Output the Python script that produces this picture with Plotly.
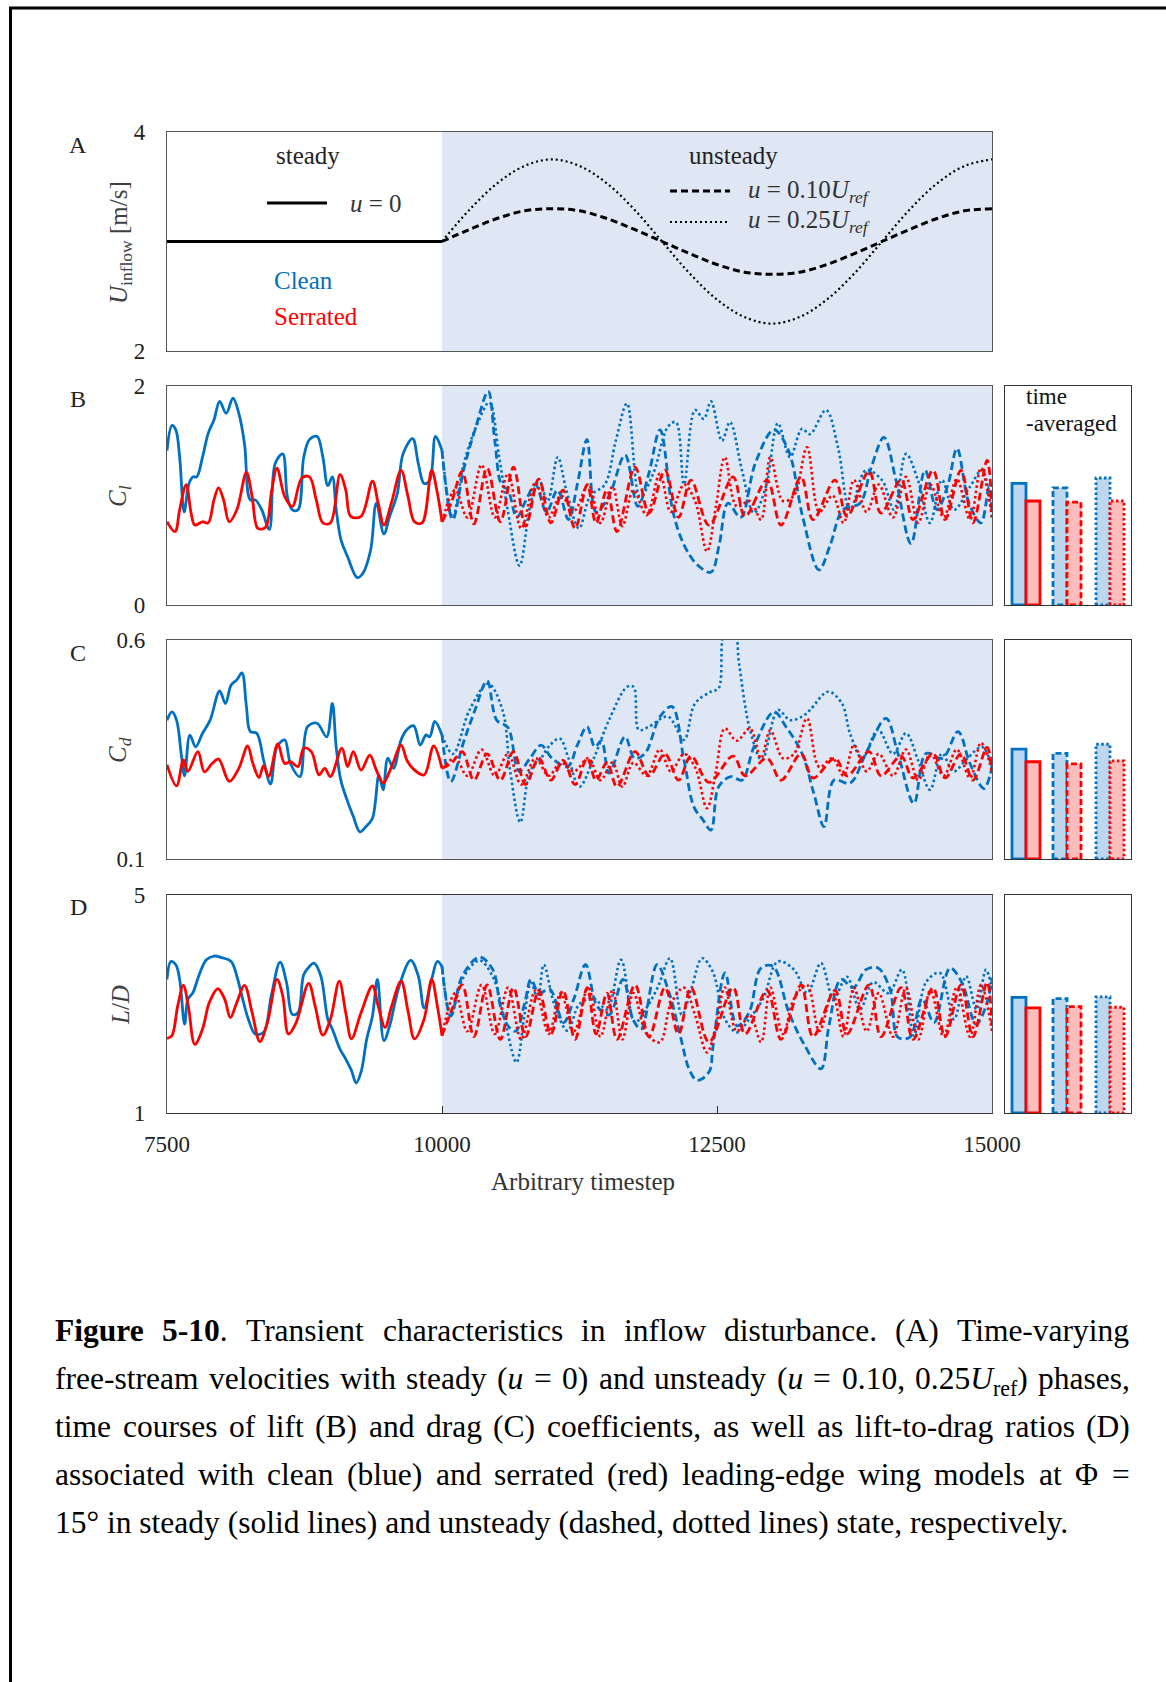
import re
import plotly.graph_objects as go

# ======================= DATA =======================
X_TICKS = [7500, 10000, 12500, 15000]

# Panel A: inflow velocity
A_steady_t = [7500, 10000]
A_steady_v = [3.0, 3.0]
A_t = [10000, 10250, 10500, 10750, 11000, 11250, 11500, 11750, 12000, 12250, 12500,
       12750, 13000, 13250, 13500, 13750, 14000, 14250, 14500, 14750, 15000]
A_u10_v = [3.0, 3.11, 3.21, 3.28, 3.30, 3.28, 3.21, 3.11, 3.0, 2.89, 2.79,
           2.72, 2.70, 2.72, 2.79, 2.89, 3.0, 3.11, 3.21, 3.28, 3.30]
A_u25_v = [3.0, 3.29, 3.53, 3.69, 3.75, 3.69, 3.53, 3.29, 3.0, 2.71, 2.47,
           2.31, 2.25, 2.31, 2.47, 2.71, 3.0, 3.29, 3.53, 3.69, 3.75]

# Panel B: lift coefficient
B_clean_steady_t = [7500, 7545, 7580, 7615, 7656, 7700, 7736, 7770, 7823, 7875,
                    7927, 7979, 8038, 8100, 8153, 8205, 8257, 8302, 8361, 8430,
                    8483, 8552, 8594, 8639, 8691, 8743, 8795, 8864, 8917, 8962,
                    9003, 9038, 9083, 9142, 9229, 9281, 9351, 9403, 9472, 9524,
                    9594, 9646, 9733, 9785, 9837, 9889, 9941, 10000]
B_clean_steady_v = [1.41, 1.64, 1.60, 1.35, 0.85, 1.11, 1.17, 1.17, 1.35, 1.57,
                    1.69, 1.86, 1.75, 1.89, 1.75, 1.47, 0.96, 0.96, 0.87, 0.69,
                    1.29, 1.38, 0.99, 0.87, 0.87, 1.35, 1.51, 1.54, 1.35, 1.09,
                    1.17, 0.87, 0.59, 0.44, 0.25, 0.29, 0.50, 0.93, 0.65, 0.81,
                    1.02, 1.38, 1.52, 1.29, 1.11, 1.14, 1.54, 1.41]
B_serr_steady_t = [7500, 7573, 7615, 7674, 7719, 7753, 7823, 7875, 7927, 7969,
                   8014, 8066, 8135, 8222, 8274, 8326, 8396, 8448, 8500, 8570,
                   8639, 8726, 8795, 8857, 8917, 8986, 9073, 9125, 9170, 9264,
                   9368, 9420, 9472, 9542, 9628, 9691, 9750, 9819, 9906, 9958, 10000]
B_serr_steady_v = [0.76, 0.67, 0.87, 1.10, 0.84, 0.73, 0.76, 0.75, 0.96, 1.07,
                   0.96, 0.76, 0.87, 1.21, 0.99, 0.70, 0.71, 1.02, 1.25, 0.99,
                   0.90, 1.16, 1.17, 0.96, 0.75, 0.75, 1.19, 1.05, 0.81, 0.81,
                   1.13, 0.93, 0.73, 0.94, 1.23, 0.99, 0.76, 0.75, 1.23, 1.02, 0.76]
B_clean_u10_t = [10000, 10097, 10200, 10300, 10420, 10480, 10540, 10600, 10680, 10760,
                 10850, 10950, 11050, 11150, 11230, 11318, 11400, 11520, 11664, 11780,
                 11880, 11982, 12100, 12200, 12318, 12445, 12520, 12600, 12715, 12850,
                 13018, 13150, 13280, 13427, 13530, 13645, 13800, 13900, 14018, 14127,
                 14264, 14391, 14500, 14600, 14682, 14791, 14900, 14973, 15000]
B_clean_u10_v = [1.41, 0.78, 1.25, 1.60, 1.95, 1.50, 1.10, 1.05, 0.80, 0.95,
                 1.10, 0.85, 1.05, 0.78, 1.10, 1.51, 0.85, 1.00, 1.37, 0.90,
                 1.20, 1.60, 0.85, 0.55, 0.37, 0.30, 0.55, 0.93, 0.80, 1.30,
                 1.60, 1.41, 0.80, 0.32, 0.55, 0.87, 0.93, 1.25, 1.53, 1.14,
                 0.56, 1.23, 0.87, 1.10, 1.43, 0.93, 0.75, 1.08, 0.87]
B_clean_u25_t = [10000, 10097, 10200, 10320, 10430, 10520, 10600, 10705, 10800, 10880,
                 10960, 11052, 11130, 11245, 11350, 11480, 11580, 11682, 11800, 11920,
                 12055, 12127, 12200, 12300, 12380, 12445, 12545, 12618, 12727, 12836,
                 12945, 13054, 13164, 13273, 13345, 13491, 13600, 13709, 13854, 14000,
                 14109, 14218, 14327, 14436, 14545, 14655, 14800, 14909, 15000]
B_clean_u25_v = [1.41, 0.80, 1.30, 1.65, 1.85, 1.35, 0.85, 0.36, 0.90, 1.15,
                 0.95, 1.35, 1.05, 0.70, 1.00, 1.10, 1.50, 1.84, 0.99, 1.20,
                 1.63, 1.67, 1.10, 1.78, 1.70, 1.86, 1.50, 1.67, 1.23, 0.84,
                 1.08, 1.66, 1.35, 1.61, 1.56, 1.78, 1.44, 0.87, 1.23, 1.14,
                 0.87, 1.38, 1.14, 0.75, 1.14, 0.87, 1.08, 1.23, 0.80]
B_serr_u10_t = [10000, 10090, 10184, 10290, 10410, 10530, 10650, 10760, 10880, 10990,
                11100, 11210, 11320, 11400, 11500, 11591, 11755, 11882, 12027, 12150,
                12264, 12427, 12646, 12755, 12955, 13082, 13264, 13373, 13573, 13682,
                13882, 13991, 14173, 14282, 14464, 14573, 14718, 14827, 14955, 15000]
B_serr_u10_v = [0.76, 0.95, 1.22, 0.74, 1.25, 0.76, 1.26, 0.72, 1.15, 0.75,
                1.05, 0.70, 1.10, 0.75, 1.05, 0.67, 1.26, 0.84, 1.23, 0.80,
                1.14, 0.73, 1.17, 0.81, 1.14, 0.73, 1.17, 0.78, 1.14, 0.81,
                1.22, 0.84, 1.14, 0.78, 1.23, 0.78, 1.23, 0.75, 1.32, 0.85]
B_serr_u25_t = [10000, 10120, 10230, 10360, 10480, 10600, 10720, 10850, 10970, 11080,
                11200, 11330, 11440, 11550, 11640, 11740, 11860, 11980, 12080, 12200,
                12300, 12409, 12490, 12571, 12680, 12800, 12900, 12985, 13100, 13200,
                13318, 13430, 13550, 13650, 13745, 13860, 13970, 14100, 14218, 14330,
                14440, 14560, 14680, 14800, 14900, 15000]
B_serr_u25_v = [0.76, 1.05, 0.80, 1.28, 0.80, 1.20, 0.70, 1.12, 0.80, 1.00,
                0.86, 1.10, 0.75, 1.08, 0.72, 1.05, 0.82, 1.20, 0.85, 1.10,
                0.95, 0.49, 0.90, 1.35, 0.90, 0.95, 0.78, 1.35, 0.95, 1.00,
                1.44, 0.85, 1.00, 0.75, 1.14, 0.85, 1.10, 0.80, 1.17, 0.75,
                1.10, 0.80, 1.15, 0.78, 1.25, 0.80]

# Panel C: drag coefficient
C_clean_steady_t = [7500, 7545, 7587, 7632, 7660, 7708, 7760, 7823, 7892, 7979,
                    8031, 8083, 8135, 8181, 8222, 8257, 8316, 8378, 8441, 8500,
                    8570, 8622, 8708, 8778, 8864, 8951, 9003, 9038, 9080, 9142,
                    9194, 9253, 9309, 9368, 9427, 9465, 9507, 9559, 9628, 9680,
                    9743, 9802, 9854, 9889, 9934, 10000]
C_clean_steady_v = [0.417, 0.436, 0.417, 0.334, 0.29, 0.383, 0.356, 0.387, 0.417, 0.484,
                    0.455, 0.497, 0.509, 0.525, 0.448, 0.391, 0.387, 0.326, 0.271, 0.356,
                    0.372, 0.318, 0.288, 0.402, 0.410, 0.379, 0.455, 0.356, 0.280, 0.231,
                    0.197, 0.162, 0.174, 0.193, 0.292, 0.258, 0.330, 0.307, 0.372, 0.395,
                    0.404, 0.360, 0.383, 0.379, 0.414, 0.383]
C_serr_steady_t = [7500, 7587, 7649, 7690, 7781, 7840, 7910, 7969, 8066, 8153,
                   8233, 8281, 8337, 8378, 8424, 8507, 8570, 8622, 8691, 8743,
                   8812, 8882, 8934, 8986, 9090, 9142, 9194, 9264, 9344, 9403,
                   9465, 9542, 9628, 9680, 9733, 9837, 9924, 10000]
C_serr_steady_v = [0.315, 0.267, 0.326, 0.30, 0.345, 0.299, 0.318, 0.328, 0.277, 0.307,
                   0.358, 0.318, 0.286, 0.313, 0.288, 0.363, 0.318, 0.322, 0.311, 0.353,
                   0.345, 0.292, 0.307, 0.288, 0.353, 0.311, 0.345, 0.303, 0.337, 0.303,
                   0.274, 0.311, 0.360, 0.326, 0.307, 0.292, 0.358, 0.307]
C_clean_u10_t = [10000, 10080, 10200, 10300, 10410, 10497, 10600, 10700, 10800, 10900,
                 11000, 11143, 11230, 11318, 11390, 11450, 11518, 11664, 11750, 11845,
                 11982, 12091, 12200, 12290, 12370, 12445, 12515, 12627, 12727, 12836,
                 13018, 13127, 13273, 13380, 13473, 13564, 13709, 13854, 14036, 14145,
                 14290, 14400, 14550, 14691, 14800, 14927, 15000]
C_clean_u10_v = [0.383, 0.277, 0.37, 0.44, 0.507, 0.417, 0.40, 0.30, 0.33, 0.36,
                 0.33, 0.311, 0.36, 0.402, 0.356, 0.37, 0.296, 0.379, 0.33, 0.341,
                 0.425, 0.448, 0.326, 0.219, 0.19, 0.166, 0.265, 0.288, 0.28, 0.356,
                 0.436, 0.402, 0.341, 0.25, 0.174, 0.28, 0.273, 0.341, 0.421, 0.341,
                 0.227, 0.341, 0.33, 0.391, 0.318, 0.261, 0.31]
C_clean_u25_t = [10000, 10100, 10250, 10420, 10550, 10620, 10712, 10800, 10900, 10982,
                 11071, 11150, 11249, 11380, 11518, 11682, 11742, 11789, 11880, 12055,
                 12200, 12300, 12445, 12515, 12571, 12658, 12700, 12800, 12909, 13054,
                 13164, 13273, 13345, 13510, 13636, 13709, 13820, 13964, 14100, 14218,
                 14327, 14436, 14545, 14650, 14764, 14909, 15000]
C_clean_u25_v = [0.383, 0.34, 0.44, 0.50, 0.44, 0.30, 0.184, 0.30, 0.33, 0.36,
                 0.375, 0.33, 0.265, 0.33, 0.417, 0.493, 0.493, 0.395, 0.402, 0.425,
                 0.372, 0.455, 0.482, 0.49, 0.62, 0.62, 0.547, 0.395, 0.326, 0.44,
                 0.417, 0.425, 0.44, 0.482, 0.455, 0.387, 0.33, 0.395, 0.34, 0.387,
                 0.326, 0.258, 0.341, 0.30, 0.326, 0.356, 0.31]
C_serr_u10_t = B_serr_u10_t
C_serr_u10_v = [0.307, 0.32, 0.345, 0.28, 0.34, 0.28, 0.345, 0.27, 0.33, 0.28,
                0.325, 0.27, 0.33, 0.28, 0.32, 0.265, 0.345, 0.29, 0.34, 0.28,
                0.335, 0.275, 0.335, 0.29, 0.33, 0.28, 0.34, 0.285, 0.33, 0.29,
                0.345, 0.29, 0.335, 0.285, 0.34, 0.285, 0.34, 0.28, 0.355, 0.30]
C_serr_u25_t = B_serr_u25_t
C_serr_u25_v = [0.307, 0.33, 0.29, 0.35, 0.29, 0.34, 0.27, 0.33, 0.29, 0.32,
                0.30, 0.33, 0.28, 0.32, 0.265, 0.32, 0.29, 0.35, 0.30, 0.34,
                0.31, 0.216, 0.30, 0.398, 0.37, 0.398, 0.33, 0.394, 0.33, 0.34,
                0.421, 0.31, 0.33, 0.29, 0.36, 0.30, 0.34, 0.29, 0.35, 0.28,
                0.34, 0.29, 0.35, 0.285, 0.365, 0.30]

# Panel D: lift-to-drag ratio
D_clean_steady_t = [7500, 7535, 7580, 7615, 7660, 7691, 7736, 7788, 7858, 7927,
                    7997, 8083, 8135, 8188, 8240, 8302, 8378, 8448, 8528, 8587,
                    8639, 8691, 8743, 8795, 8837, 8899, 8962, 9003, 9073, 9125,
                    9177, 9219, 9264, 9316, 9368, 9413, 9472, 9524, 9611, 9715,
                    9785, 9837, 9906, 9958, 10000]
D_clean_steady_v = [3.45, 3.78, 3.72, 3.45, 2.63, 3.09, 3.21, 3.51, 3.81, 3.88,
                    3.85, 3.78, 3.51, 3.09, 2.72, 2.45, 2.48, 3.15, 3.77, 3.39,
                    2.81, 2.84, 3.54, 3.69, 3.75, 3.51, 2.72, 2.54, 2.17, 1.99,
                    1.78, 1.55, 1.75, 2.36, 2.78, 3.45, 2.33, 2.60, 3.33, 3.80,
                    3.51, 2.93, 3.45, 3.78, 3.69]
D_serr_steady_t = [7500, 7545, 7597, 7649, 7694, 7753, 7823, 7885, 7962, 8024,
                   8076, 8135, 8205, 8274, 8344, 8413, 8500, 8552, 8604, 8674,
                   8788, 8847, 8917, 8986, 9066, 9125, 9177, 9264, 9368, 9420,
                   9483, 9542, 9628, 9691, 9750, 9837, 9906, 9958, 10000]
D_serr_steady_v = [2.37, 2.42, 2.96, 3.34, 2.96, 2.26, 2.54, 3.03, 3.28, 3.09,
                   2.75, 3.03, 3.34, 2.84, 2.31, 2.66, 3.45, 3.15, 2.45, 2.66,
                   3.38, 2.96, 2.43, 2.72, 3.42, 2.84, 2.36, 2.84, 3.33, 2.96,
                   2.57, 2.96, 3.42, 2.87, 2.36, 2.72, 3.45, 2.96, 2.42]
D_clean_u10_t = [10000, 10080, 10184, 10340, 10462, 10531, 10600, 10670, 10750, 10809,
                 10880, 10980, 11105, 11200, 11305, 11410, 11520, 11645, 11736, 11810,
                 11955, 12064, 12173, 12245, 12318, 12427, 12464, 12573, 12682, 12791,
                 12900, 13009, 13154, 13300, 13445, 13518, 13627, 13740, 13854, 13964,
                 14073, 14145, 14254, 14364, 14473, 14618, 14727, 14855, 14945, 15000]
D_clean_u10_v = [3.69, 2.78, 3.51, 3.86, 3.63, 2.96, 2.60, 2.50, 3.00, 3.45,
                 3.20, 3.27, 2.66, 3.10, 3.72, 2.96, 2.80, 3.45, 2.72, 2.54,
                 3.72, 3.21, 2.36, 1.81, 1.60, 1.75, 2.23, 3.57, 2.60, 2.84,
                 3.66, 3.69, 2.84, 2.23, 1.81, 2.60, 3.45, 3.30, 3.63, 3.66,
                 3.27, 2.39, 2.39, 3.09, 2.66, 3.66, 3.39, 2.63, 2.96, 3.48]
D_clean_u25_t = [10000, 10080, 10184, 10340, 10462, 10560, 10677, 10750, 10809, 10870,
                 10925, 11020, 11141, 11250, 11380, 11500, 11627, 11754, 11850, 11960,
                 12073, 12180, 12270, 12364, 12460, 12573, 12682, 12791, 12920, 13054,
                 13200, 13320, 13445, 13560, 13680, 13800, 13920, 14060, 14182, 14290,
                 14400, 14527, 14655, 14764, 14860, 14945, 15000]
D_clean_u25_v = [3.69, 2.78, 3.45, 3.80, 3.50, 2.80, 1.93, 2.80, 3.39, 3.10,
                 3.72, 3.00, 2.51, 3.00, 3.10, 2.90, 3.81, 2.66, 2.90, 3.30,
                 3.84, 2.80, 3.30, 3.84, 3.60, 2.72, 2.48, 2.72, 3.10, 3.78,
                 3.63, 3.20, 3.75, 3.10, 3.50, 2.90, 3.40, 3.20, 3.63, 2.42,
                 3.40, 3.57, 2.72, 3.51, 2.90, 3.63, 3.27]
D_serr_u10_t = B_serr_u10_t
D_serr_u10_v = [2.42, 2.90, 3.35, 2.40, 3.35, 2.35, 3.30, 2.40, 3.25, 2.45,
                3.25, 2.35, 3.30, 2.45, 3.20, 2.35, 3.35, 2.40, 3.30, 2.45,
                3.30, 2.30, 3.30, 2.45, 3.25, 2.35, 3.35, 2.40, 3.25, 2.45,
                3.35, 2.40, 3.30, 2.35, 3.30, 2.40, 3.35, 2.40, 3.40, 2.60]
D_serr_u25_t = B_serr_u25_t
D_serr_u25_v = [2.42, 3.20, 2.50, 3.35, 2.45, 3.30, 2.35, 3.25, 2.45, 3.20,
                2.50, 3.30, 2.40, 3.25, 2.35, 3.20, 2.45, 2.30, 3.00, 3.30,
                2.80, 2.11, 2.60, 3.30, 2.50, 2.80, 2.30, 3.30, 2.45, 3.10,
                3.35, 2.50, 3.20, 2.40, 3.30, 2.50, 3.20, 2.40, 3.30, 2.35,
                3.25, 2.40, 3.30, 2.40, 3.35, 2.50]

# Time-averaged bars: [steady, u=0.10Uref, u=0.25Uref]
B_avg_clean = [1.11, 1.07, 1.16]
B_avg_serr = [0.95, 0.94, 0.95]
C_avg_clean = [0.351, 0.341, 0.362]
C_avg_serr = [0.322, 0.317, 0.324]
D_avg_clean = [3.12, 3.10, 3.13]
D_avg_serr = [2.93, 2.95, 2.94]

CAPTION = [
    "<b>Figure</b> <b>5-10</b>. Transient characteristics in inflow disturbance. (A) Time-varying",
    "free-stream velocities with steady (<i>u</i> = 0) and unsteady (<i>u</i> = 0.10, 0.25<i>U</i><sub>ref</sub>) phases,",
    "time courses of lift (B) and drag (C) coefficients, as well as lift-to-drag ratios (D)",
    "associated with clean (blue) and serrated (red) leading-edge wing models at \u03a6 =",
    "15\u00b0 in steady (solid lines) and unsteady (dashed, dotted lines) state, respectively.",
]

# ======================= STYLE / LAYOUT =======================
W, H = 1166, 1682
def fx(p):
    return p / W
def fy(p):
    return 1 - p / H

SERIF = "Liberation Serif, 'Times New Roman', serif"
BLUE = "#0070C0"
RED = "#FF0000"
BLUE_FILL = "#BDD7EE"
RED_FILL = "#FFBCBC"
SHADE = "#DEE7F3"
FRAME = "#555555"
DASH = "8px,4px"
DOT = "2.5px,2.8px"
LW = 2.8

fig = go.Figure()

def line(t, v, ax, color, dash="solid", width=LW):
    fig.add_trace(go.Scatter(
        x=t, y=v, xaxis="x" + ax, yaxis="y" + ax, mode="lines",
        line=dict(color=color, width=width, dash=dash, shape="spline", smoothing=1.0),
        showlegend=False, hoverinfo="skip"))

# Panel A
line(A_steady_t, A_steady_v, "", "black", "solid", 3)
line(A_t, A_u10_v, "", "black", "7px,4px", 3)
line(A_t, A_u25_v, "", "black", "2px,3px", 2.2)

series = [
    ("2", B_clean_steady_t, B_clean_steady_v, B_serr_steady_t, B_serr_steady_v,
     B_clean_u10_t, B_clean_u10_v, B_clean_u25_t, B_clean_u25_v,
     B_serr_u10_t, B_serr_u10_v, B_serr_u25_t, B_serr_u25_v),
    ("3", C_clean_steady_t, C_clean_steady_v, C_serr_steady_t, C_serr_steady_v,
     C_clean_u10_t, C_clean_u10_v, C_clean_u25_t, C_clean_u25_v,
     C_serr_u10_t, C_serr_u10_v, C_serr_u25_t, C_serr_u25_v),
    ("4", D_clean_steady_t, D_clean_steady_v, D_serr_steady_t, D_serr_steady_v,
     D_clean_u10_t, D_clean_u10_v, D_clean_u25_t, D_clean_u25_v,
     D_serr_u10_t, D_serr_u10_v, D_serr_u25_t, D_serr_u25_v),
]
for (ax, cst, csv, sst, ssv, c10t, c10v, c25t, c25v, s10t, s10v, s25t, s25v) in series:
    line(c25t, c25v, ax, BLUE, DOT, 2.6)
    line(c10t, c10v, ax, BLUE, DASH)
    line(s25t, s25v, ax, RED, DOT, 2.6)
    line(s10t, s10v, ax, RED, DASH)
    line(cst, csv, ax, BLUE, "solid")
    line(sst, ssv, ax, RED, "solid")

# Side bar panels (x in units of side-panel pixels)
GROUP_POS = [21, 62, 105]
BAR_W = 14
BAR_DASH = ["solid", "6px,3px", "2.5px,2.5px"]
for ax, base, clean, serr in [("5", 0, B_avg_clean, B_avg_serr),
                              ("6", 0.1, C_avg_clean, C_avg_serr),
                              ("7", 1, D_avg_clean, D_avg_serr)]:
    for k in range(3):
        for val, off, lc, fc in [(clean[k], -1, BLUE, BLUE_FILL), (serr[k], 1, RED, RED_FILL)]:
            c = GROUP_POS[k] + off * BAR_W / 2
            x0, x1 = c - BAR_W / 2, c + BAR_W / 2
            fig.add_trace(go.Scatter(
                x=[x0, x0, x1, x1, x0], y=[base, val, val, base, base],
                xaxis="x" + ax, yaxis="y" + ax, mode="lines", fill="toself",
                fillcolor=fc, line=dict(color=lc, width=2.8, dash=BAR_DASH[k]),
                showlegend=False, hoverinfo="skip"))

panels = [
    ("", 132, 351, [2, 4], ["2", "4"]),
    ("2", 386, 605, [0, 2], ["0", "2"]),
    ("3", 640, 859, [0.1, 0.6], ["0.1", "0.6"]),
    ("4", 895, 1113, [1, 5], ["1", "5"]),
]
layout = {}
tickfont = dict(family=SERIF, size=23, color="#222222")
for (ax, top, bot, tv, tt) in panels:
    xa = dict(domain=[fx(167), fx(992)], range=[7500, 15000], anchor="y" + ax,
              showline=True, mirror=True, linecolor=FRAME, linewidth=1.2,
              showgrid=False, zeroline=False, ticks="", showticklabels=False)
    if ax == "4":
        xa.update(showticklabels=True, tickvals=X_TICKS, ticktext=[str(v) for v in X_TICKS],
                  ticks="inside", ticklen=7, tickcolor="#333333", tickwidth=1,
                  tickfont=tickfont, ticklabelstandoff=10, linecolor="#333333")
    ya = dict(domain=[fy(bot), fy(top)], range=tv, anchor="x" + ax,
              showline=True, mirror=True, linecolor=FRAME, linewidth=1.2,
              showgrid=False, zeroline=False, tickvals=tv, ticktext=tt, ticks="",
              tickfont=tickfont, ticklabelstandoff=16)
    layout["xaxis" + ax] = xa
    layout["yaxis" + ax] = ya
    fig.add_shape(type="rect", xref="x" + ax, yref="y" + ax + " domain",
                  x0=10000, x1=15000, y0=0, y1=1, fillcolor=SHADE, line_width=0, layer="below")

for ax, top, bot, rng in [("5", 386, 605, [0, 2]), ("6", 640, 859, [0.1, 0.6]),
                          ("7", 895, 1113, [1, 5])]:
    layout["xaxis" + ax] = dict(domain=[fx(1005), fx(1131)], range=[0, 126], anchor="y" + ax,
                                showline=True, mirror=True, linecolor="#333333", linewidth=1.2,
                                showgrid=False, zeroline=False, ticks="", showticklabels=False)
    layout["yaxis" + ax] = dict(domain=[fy(bot), fy(top)], range=rng, anchor="x" + ax,
                                showline=True, mirror=True, linecolor="#333333", linewidth=1.2,
                                showgrid=False, zeroline=False, ticks="", showticklabels=False)

fig.update_layout(**layout)

ann = []
def text(x, y, s, size=25, color="#222222", xanchor="center", angle=0, yanchor="middle"):
    ann.append(dict(x=fx(x), y=fy(y), xref="paper", yref="paper", text=s, showarrow=False,
                    xanchor=xanchor, yanchor=yanchor, textangle=angle,
                    font=dict(family=SERIF, size=size, color=color)))

# Panel letters
for lab, yy in [("A", 145), ("B", 399), ("C", 653), ("D", 907)]:
    text(78, yy, lab, 24)
# Y titles
text(120, 243, "<i>U</i><sub>inflow</sub> [m/s]", 25, "#404040", angle=-90)
text(120, 496, "<i>C<sub>l</sub></i>", 25, "#404040", angle=-90)
text(120, 750, "<i>C<sub>d</sub></i>", 25, "#404040", angle=-90)
text(120, 1005, "<i>L</i>/<i>D</i>", 25, "#404040", angle=-90)
# X title
text(583, 1181, "Arbitrary timestep", 25, "#333333")
# Panel A legend texts
text(308, 155, "steady", 25)
text(348, 203, "<i>u</i> = 0", 25, "#333333", xanchor="left")
text(272, 280, "Clean", 25, BLUE, xanchor="left")
text(272, 316, "Serrated", 25, RED, xanchor="left")
text(733, 155, "unsteady", 25)
text(746, 191, "<i>u</i> = 0.10<i>U<sub>ref</sub></i>", 25, "#333333", xanchor="left")
text(746, 222, "<i>u</i> = 0.25<i>U<sub>ref</sub></i>", 25, "#333333", xanchor="left")
# time-averaged
text(1024, 396, "time", 23, "#111111", xanchor="left")
text(1024, 424, "-averaged", 23, "#111111", xanchor="left")

# ---- Justified caption (word positions from Times metrics) ----
TIMES = {' ': 250, '!': 333, '(': 333, ')': 333, ',': 250, '-': 333, '.': 250, '/': 278,
         ':': 278, '=': 564, '\u00b0': 400, '\u03a6': 760,
         'A': 722, 'B': 667, 'C': 667, 'D': 722, 'E': 611, 'F': 556, 'G': 722, 'H': 722,
         'I': 333, 'J': 389, 'K': 722, 'L': 611, 'M': 889, 'N': 722, 'O': 722, 'P': 556,
         'Q': 722, 'R': 667, 'S': 556, 'T': 611, 'U': 722, 'V': 722, 'W': 944, 'X': 722,
         'Y': 722, 'Z': 611,
         'a': 444, 'b': 500, 'c': 444, 'd': 500, 'e': 444, 'f': 333, 'g': 500, 'h': 500,
         'i': 278, 'j': 278, 'k': 500, 'l': 278, 'm': 778, 'n': 500, 'o': 500, 'p': 500,
         'q': 500, 'r': 333, 's': 389, 't': 278, 'u': 500, 'v': 500, 'w': 722, 'x': 500,
         'y': 500, 'z': 444}
BOLD_EXTRA = {'F': 611, 'i': 278, 'g': 500, 'u': 556, 'r': 444, 'e': 444}

def word_width(w, size):
    tot = 0.0
    for m in re.finditer(r"<b>(.*?)</b>|<sub>(.*?)</sub>|<[^>]+>|([^<]+)", w):
        if m.group(1) is not None:
            tot += sum(BOLD_EXTRA.get(c, TIMES.get(c, 500)) for c in m.group(1))
        elif m.group(2) is not None:
            tot += 0.7 * sum(TIMES.get(c, 500) for c in m.group(2))
        elif m.group(3) is not None:
            tot += sum(TIMES.get(c, 500) for c in m.group(3))
    return tot * size / 1000.0

CAP_SIZE = 31.5
CAP_LEFT, CAP_RIGHT = 53, 1128
CAP_TOP0, CAP_DY = 1311, 48
for k, ln in enumerate(CAPTION):
    y = CAP_TOP0 + k * CAP_DY
    if k == len(CAPTION) - 1:
        text(CAP_LEFT, y, ln, CAP_SIZE, "black", xanchor="left", yanchor="top")
        continue
    words = ln.split(" ")
    widths = [word_width(w, CAP_SIZE) for w in words]
    gap = (CAP_RIGHT - CAP_LEFT - sum(widths)) / (len(words) - 1)
    xpos = CAP_LEFT
    for w, wd in zip(words, widths):
        text(xpos, y, w, CAP_SIZE, "black", xanchor="left", yanchor="top")
        xpos += wd + gap

fig.update_layout(annotations=ann)

# Legend sample lines in panel A and page border
shapes = [
    dict(type="line", xref="paper", yref="paper", x0=fx(267), x1=fx(327), y0=fy(203), y1=fy(203),
         line=dict(color="black", width=3)),
    dict(type="line", xref="paper", yref="paper", x0=fx(670), x1=fx(730), y0=fy(191), y1=fy(191),
         line=dict(color="black", width=3, dash="7px,4px")),
    dict(type="line", xref="paper", yref="paper", x0=fx(670), x1=fx(730), y0=fy(222), y1=fy(222),
         line=dict(color="black", width=2.2, dash="2px,3px")),
    dict(type="line", xref="paper", yref="paper", x0=fx(9), x1=1, y0=fy(8), y1=fy(8),
         line=dict(color="black", width=3)),
    dict(type="line", xref="paper", yref="paper", x0=fx(10.5), x1=fx(10.5), y0=fy(7), y1=0,
         line=dict(color="black", width=3)),
]
for s in shapes:
    fig.add_shape(**s)

fig.update_layout(width=W, height=H, margin=dict(l=0, r=0, t=0, b=0, autoexpand=False),
                  paper_bgcolor="white", plot_bgcolor="white", showlegend=False)

fig.write_html("out.html")
